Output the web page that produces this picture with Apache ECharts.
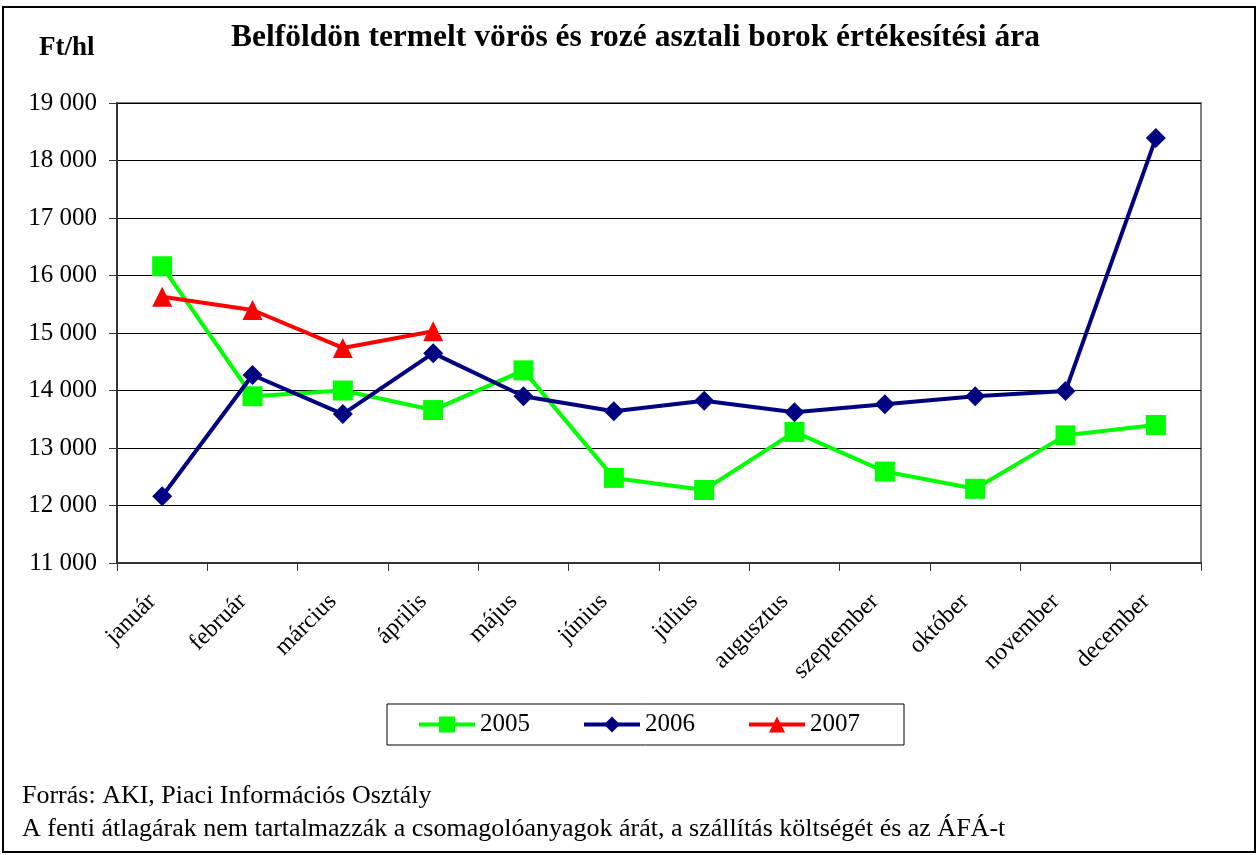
<!DOCTYPE html>
<html>
<head>
<meta charset="utf-8">
<script src="https://cdn.jsdelivr.net/npm/echarts@6/dist/echarts.min.js"></script>
<style>
  html, body { margin: 0; padding: 0; background: #fff; }
  #chart { width: 1257px; height: 855px; }
</style>
</head>
<body>
<div id="chart"></div>
<script>
const months = ['január', 'február', 'március', 'április', 'május', 'június', 'július',
  'augusztus', 'szeptember', 'október', 'november', 'december'];
const price2005 = [16160, 13900, 14000, 13660, 14350, 12480, 12270, 13280, 12590, 12290, 13220, 13400];
const price2006 = [12160, 14270, 13590, 14650, 13900, 13640, 13820, 13620, 13760, 13900, 13990, 18390];
const price2007 = [15630, 15400, 14740, 15030];
const yTicks = { min: 11000, max: 19000, step: 1000 };

const serif = '"Liberation Serif", "DejaVu Serif", serif';
const chart = echarts.init(document.getElementById('chart'));

const fmt = v => String(v).replace(/\B(?=(\d{3})+(?!\d))/g, ' ');

chart.setOption({
  backgroundColor: '#fff',
  animation: false,
  title: {
    text: 'Belföldön termelt vörös és rozé asztali borok értékesítési ára',
    left: 226,
    top: 17,
    textStyle: { fontFamily: serif, fontSize: 31.5, fontWeight: 'bold', color: '#000' }
  },
  legend: {
    left: 387,
    top: 704,
    orient: 'horizontal',
    itemWidth: 56,
    itemHeight: 20,
    itemGap: 52,
    padding: [8, 44, 8, 30],
    borderColor: '#000',
    borderWidth: 1,
    lineStyle: { width: 4 },
    textStyle: { fontFamily: serif, fontSize: 25, color: '#000' },
    data: ['2005', '2006', '2007']
  },
  grid: { left: 117, right: 56, top: 103, bottom: 292, show: true, borderColor: '#808080', borderWidth: 2 },
  xAxis: {
    type: 'category',
    data: months,
    boundaryGap: true,
    axisLine: { lineStyle: { color: '#333', width: 2 } },
    axisTick: { show: true, inside: false, length: 8, lineStyle: { color: '#333' } },
    axisLabel: { rotate: 45, margin: 25, padding: [0, 14, 0, 0], fontFamily: serif, fontSize: 24, color: '#000' },
    splitLine: { show: false }
  },
  yAxis: {
    type: 'value',
    min: yTicks.min,
    max: yTicks.max,
    interval: yTicks.step,
    axisLine: { show: true, lineStyle: { color: '#333', width: 2 } },
    axisTick: { show: true, inside: false, length: 8, lineStyle: { color: '#333' } },
    axisLabel: { margin: 20, fontFamily: serif, fontSize: 25, color: '#000', formatter: fmt },
    splitLine: { lineStyle: { color: '#000', width: 1 } }
  },
  graphic: [
    { type: 'rect', shape: { x: 3, y: 7, width: 1252, height: 845 },
      style: { fill: 'none', stroke: '#000', lineWidth: 2 }, silent: true, z: -1 },
    { type: 'text', left: 39, top: 35,
      style: { text: 'Ft/hl', font: 'bold 27px ' + serif, fill: '#000' } },
    { type: 'text', left: 22, top: 783,
      style: { text: 'Forrás: AKI, Piaci Információs Osztály', font: '26px ' + serif, fill: '#000' } },
    { type: 'text', left: 22, top: 816,
      style: { text: 'A fenti átlagárak nem tartalmazzák a csomagolóanyagok árát, a szállítás költségét és az ÁFÁ-t',
        font: '26px ' + serif, fill: '#000' } }
  ],
  series: [
    {
      name: '2005', type: 'line', data: price2005,
      symbol: 'rect', symbolSize: 20,
      lineStyle: { color: '#00ff00', width: 4 },
      itemStyle: { color: '#00ff00' }, z: 2
    },
    {
      name: '2006', type: 'line', data: price2006,
      symbol: 'diamond', symbolSize: [20, 20],
      lineStyle: { color: '#000080', width: 4 },
      itemStyle: { color: '#000080' }, z: 3
    },
    {
      name: '2007', type: 'line', data: price2007,
      symbol: 'triangle', symbolSize: 20,
      lineStyle: { color: '#ff0000', width: 4 },
      itemStyle: { color: '#ff0000' }, z: 4
    }
  ]
});
</script>
</body>
</html>
